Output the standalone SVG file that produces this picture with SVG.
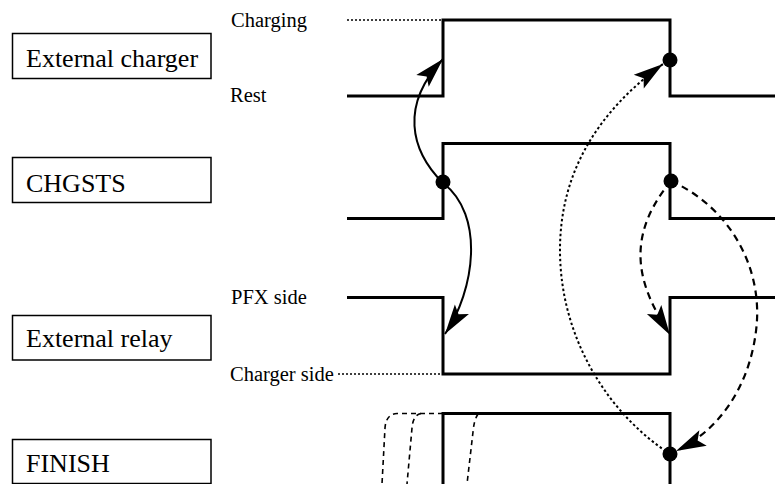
<svg xmlns="http://www.w3.org/2000/svg" width="775" height="484" viewBox="0 0 775 484">
<style>
text{font-family:"Liberation Serif","Times New Roman",serif;fill:#000}
.box rect{fill:#fff;stroke:#000;stroke-width:1.5}
.box text{font-size:26px}
.lbl{font-size:20.5px}
.sig{fill:none;stroke:#000;stroke-width:3;stroke-linejoin:miter;stroke-linecap:butt}
.ref{fill:none;stroke:#000;stroke-width:1.3;stroke-dasharray:2 2}
.solid{fill:none;stroke:#000;stroke-width:2}
.dash{fill:none;stroke:#000;stroke-width:2.2;stroke-dasharray:7 5}
.dot{fill:none;stroke:#000;stroke-width:2;stroke-dasharray:2.5 2.5}
.fdash{fill:none;stroke:#000;stroke-width:1.6;stroke-dasharray:5 4}
.pt{fill:#000}
</style>
<defs>
<marker id="ah" markerUnits="userSpaceOnUse" markerWidth="34" markerHeight="20" viewBox="-32 -10 34 20" refX="0" refY="0" orient="auto" overflow="visible">
<path d="M0,0 L-30,-8.5 L-24,0 L-30,8.5 Z" fill="#000" stroke="none"/>
</marker>
</defs>
<g id="node-external-charger" class="box">
<rect x="12.5" y="33.5" width="198.5" height="45"/>
<text x="26" y="66.5">External charger</text>
</g>
<g id="node-chgsts" class="box">
<rect x="12.5" y="157.5" width="198.5" height="45"/>
<text x="26" y="191.5">CHGSTS</text>
</g>
<g id="node-external-relay" class="box">
<rect x="12.5" y="315.5" width="198.5" height="44.5"/>
<text x="26" y="347">External relay</text>
</g>
<g id="node-finish" class="box">
<rect x="12.5" y="439.5" width="198.5" height="44"/>
<text x="26" y="471.5">FINISH</text>
</g>
<g id="labels">
<text class="lbl" x="231" y="27">Charging</text>
<text class="lbl" x="230" y="102">Rest</text>
<text class="lbl" x="231" y="304">PFX side</text>
<text class="lbl" x="230" y="380.5">Charger side</text>
</g>
<g id="signals">
<path class="ref" d="M347,20 H443"/>
<path class="ref" d="M338,374 H443"/>
<path class="sig" d="M347,96 H443 V20 H670 V96 H775"/>
<path class="sig" d="M347,218.5 H443 V143.5 H670 V218.5 H775"/>
<path class="sig" d="M347,297.5 H443 V374 H670 V297.5 H775"/>
<path class="sig" d="M443,484 V413.5 H670 V484"/>
<path class="fdash" d="M443,413.5 H397 Q386,414 385,428 L382,484"/>
<path class="fdash" d="M421,413.5 Q413,415 412,428 L407,484"/>
<path class="fdash" d="M478,414 Q474,420 473,432 L467,484"/>
</g>
<g id="connectors">
<path class="solid" d="M443,183 C410,150 400,105 443,59" marker-end="url(#ah)"/>
<path class="solid" d="M443,183 C485,215 475,290 445,334" marker-end="url(#ah)"/>
<path class="dash" d="M671,181 C618,245 645,295 670,335" marker-end="url(#ah)"/>
<path class="dash" d="M671,181 C725,205 760,260 757,320 C754,370 730,425 676,451" marker-end="url(#ah)"/>
<path class="dot" d="M670,454 C610,415 560,340 560,250 C560,170 600,110 663,64" marker-end="url(#ah)"/>
</g>
<g id="points">
<circle class="pt" cx="443" cy="182" r="7.5"/>
<circle class="pt" cx="670" cy="60" r="7.5"/>
<circle class="pt" cx="671" cy="181" r="7.5"/>
<circle class="pt" cx="670" cy="454" r="7.5"/>
</g>
</svg>
